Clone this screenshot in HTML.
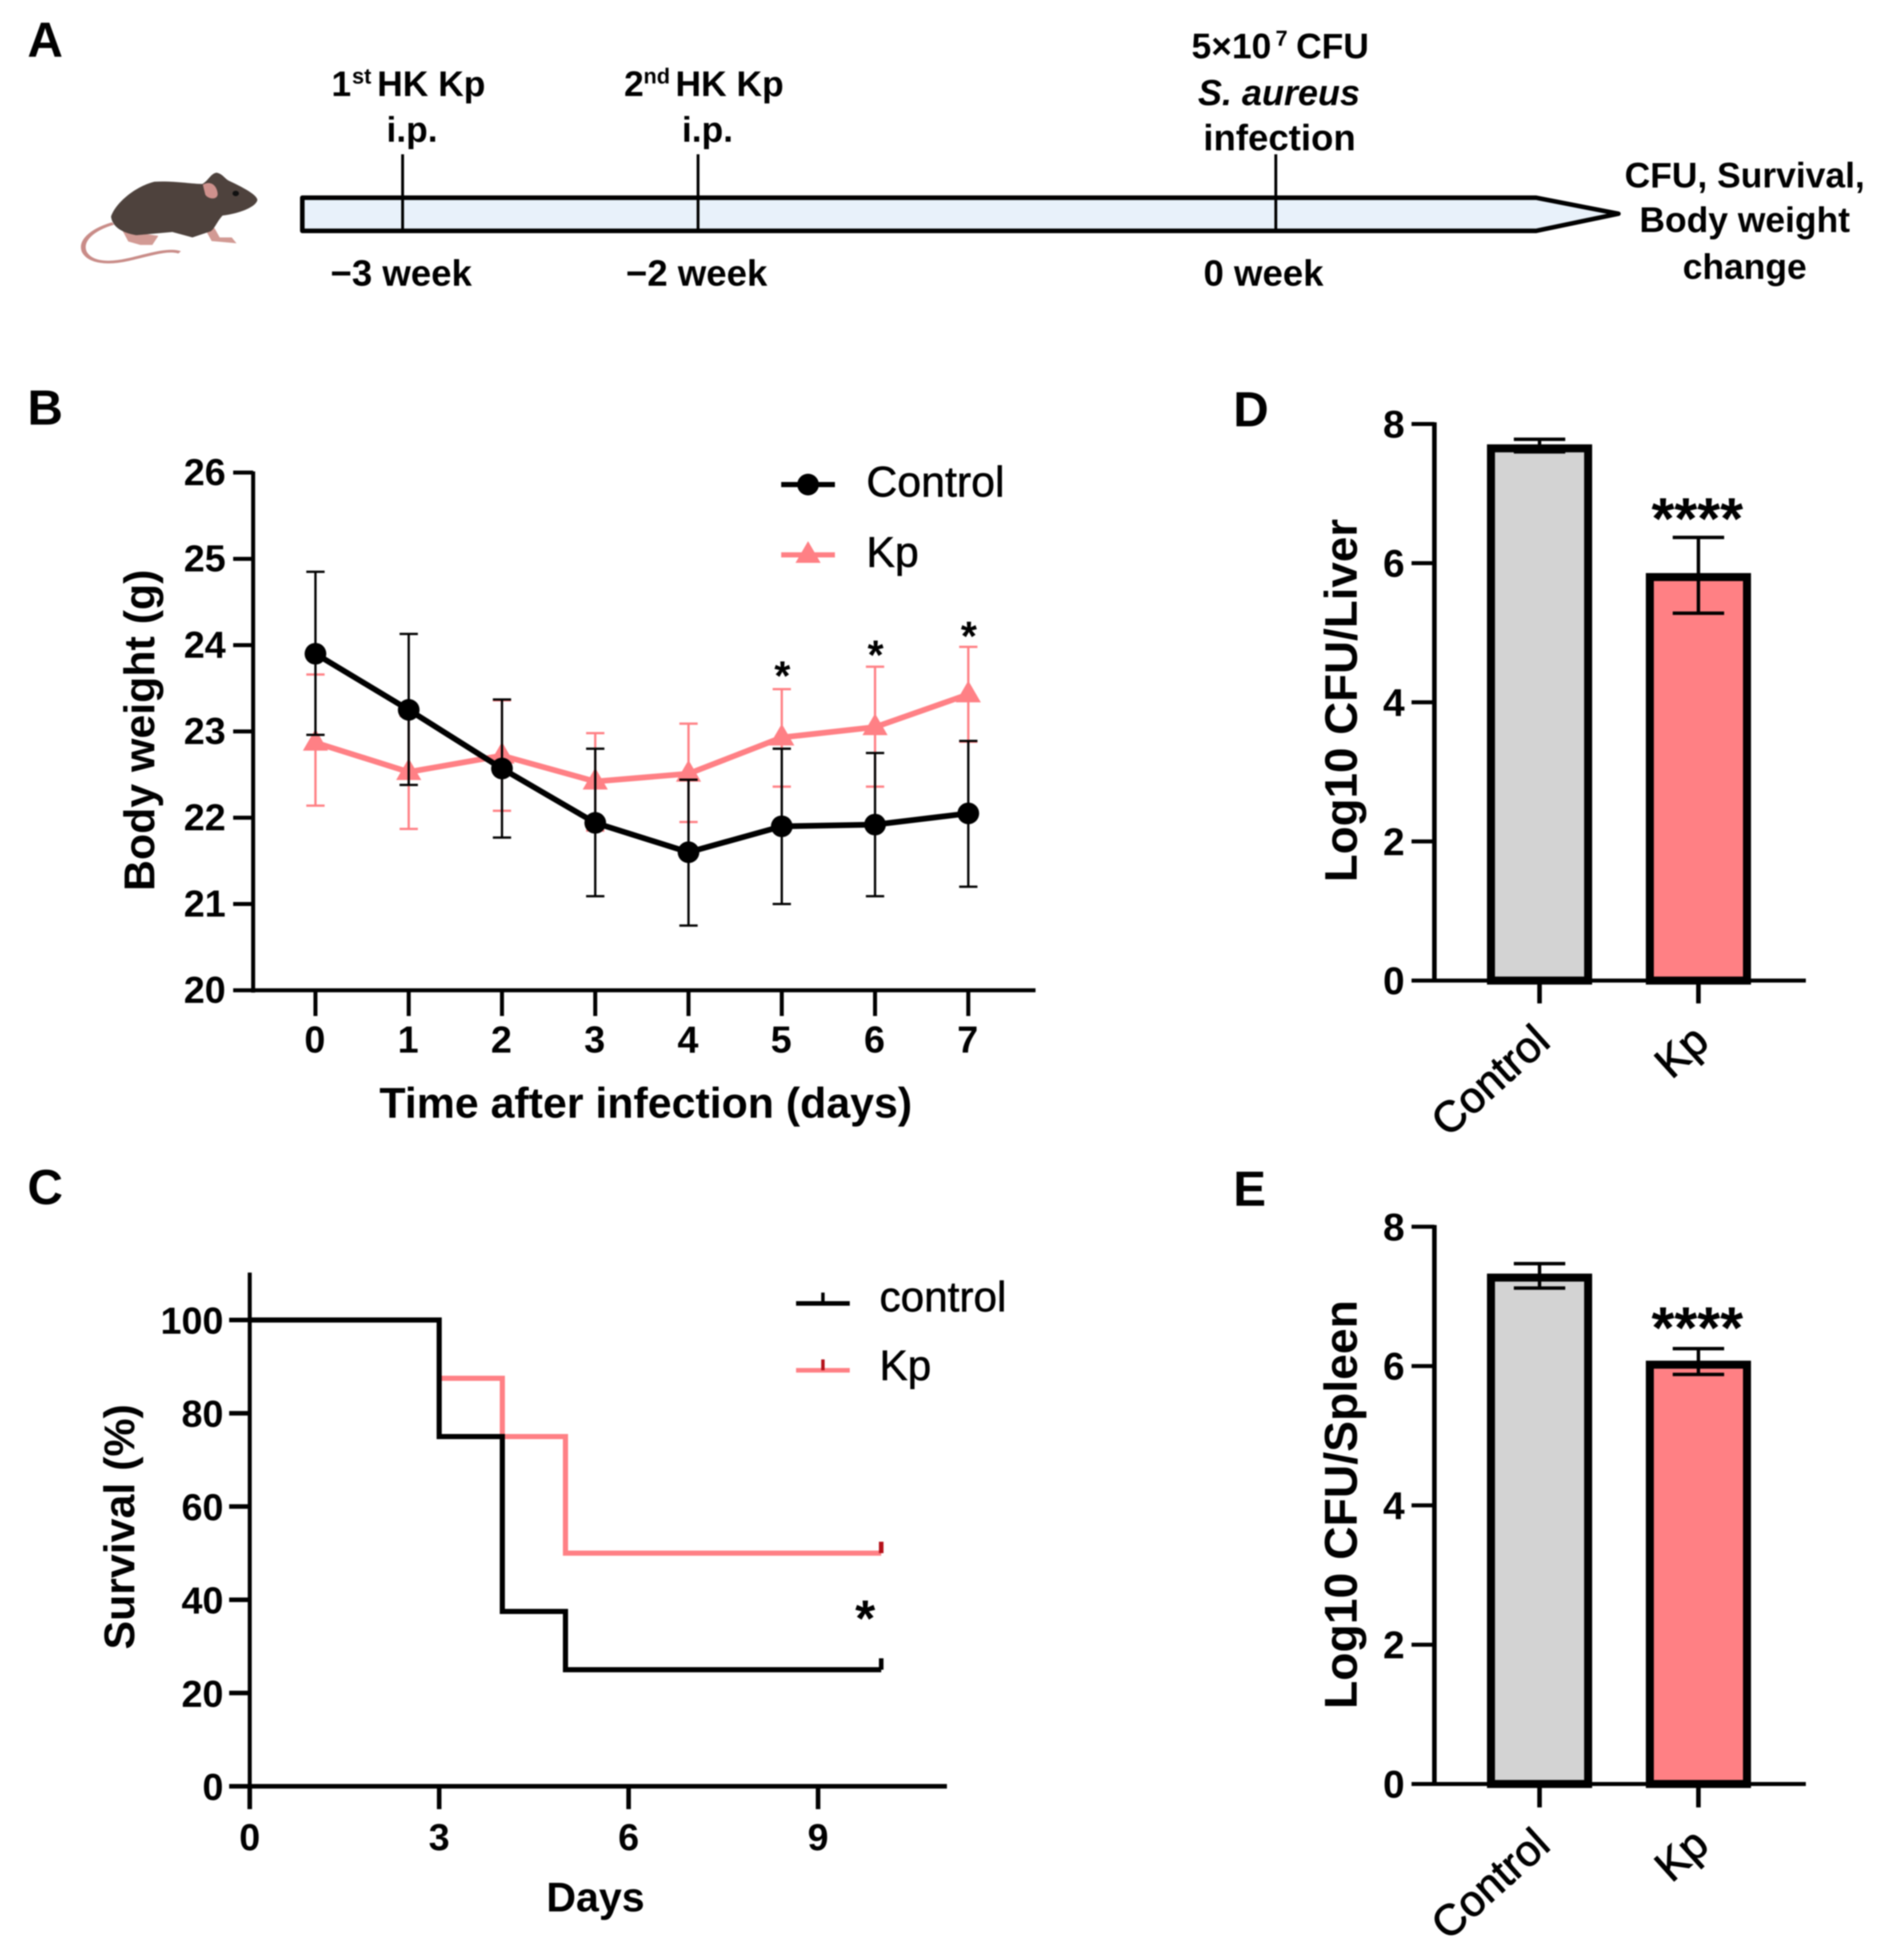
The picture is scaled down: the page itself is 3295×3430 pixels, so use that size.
<!DOCTYPE html>
<html lang="en">
<head>
<meta charset="utf-8">
<title>Kp protection figure</title>
<style>
html,body{margin:0;padding:0;background:#fff;}
svg{display:block;filter:blur(1px);}
text{font-family:"Liberation Sans",sans-serif;fill:#000;}
.b{font-weight:bold;}
.panel{font-size:86px;font-weight:bold;}
.a{font-size:62px;font-weight:bold;text-anchor:middle;}
.a64{font-size:64px;}
.sup{font-size:38px;font-weight:bold;}
.soft{stroke:#000;stroke-width:.9px;}
</style>
</head>
<body>
<svg id="fig" xmlns="http://www.w3.org/2000/svg" width="3295" height="3430" viewBox="0 0 3295 3430">
<rect width="3295" height="3430" fill="#fff"/>

<text class="panel" x="48" y="99">A</text>
<text class="panel" x="48" y="743">B</text>
<text class="panel" x="48" y="2107">C</text>
<text class="panel" x="2158" y="746">D</text>
<text class="panel" x="2158" y="2110">E</text>

<g id="mouse" transform="scale(.7015 .395)">
  <path d="M282 990C225 1020 200 1070 210 1115C225 1165 270 1170 320 1150C370 1130 420 1100 448 1118" fill="none" stroke="#c98c88" stroke-width="12"/>
  <path d="M305 1020L320 1070L350 1085L380 1085L395 1045ZM510 1010L528 1068L590 1078L578 1052L548 1052L535 1010Z" fill="#d29a94"/>
  <path d="M277 960C285 910 330 830 385 805C430 800 480 815 505 815C520 800 525 770 540 765C555 770 560 790 570 800C600 825 640 860 642 885C640 915 600 945 555 955C540 985 535 1015 525 1025L480 1052L430 1028L340 1042C300 1030 280 1000 277 960Z" fill="#4e423d"/>
  <path d="M506 818C530 796 542 830 543 860C542 888 518 882 512 862Z" fill="#cf918d"/>
  <ellipse cx="588" cy="857" rx="8" ry="12" fill="#111"/>
</g>

<path d="M529 346H2688L2832 374L2688 404H529Z" fill="#e8f1fa" stroke="#000" stroke-width="8" stroke-linejoin="round"/>
<rect x="702" y="270" width="5" height="134" fill="#000"/>
<rect x="1219" y="270" width="5" height="134" fill="#000"/>
<rect x="2230" y="270" width="5" height="134" fill="#000"/>

<text class="b" x="580" y="168" font-size="62">1</text>
<text class="sup" x="616" y="146">st</text>
<text class="b" x="660" y="168" font-size="62">HK Kp</text>
<text class="a" x="721" y="248">i.p.</text>
<text class="b" x="1092" y="168" font-size="62">2</text>
<text class="sup" x="1126" y="146">nd</text>
<text class="b" x="1182" y="168" font-size="62">HK Kp</text>
<text class="a" x="1238" y="248">i.p.</text>
<text class="b" x="2085" y="102" font-size="62">5×10</text>
<text class="sup" x="2232" y="80">7</text>
<text class="b" x="2268" y="102" font-size="62">CFU</text>
<text class="a" x="2238" y="184" font-style="italic" style="font-size:63px">S. aureus</text>
<text class="a a64" x="2239" y="263">infection</text>
<text class="a a64" x="702" y="500">−3 week</text>
<text class="a a64" x="1219" y="500">−2 week</text>
<text class="a a64" x="2211" y="500">0 week</text>
<text class="a" x="3053" y="328">CFU, Survival,</text>
<text class="a" x="3053" y="406">Body weight</text>
<text class="a" x="3053" y="488">change</text>

<g id="chartB">
  <text class="b" font-size="75" text-anchor="middle" transform="translate(270 1278) rotate(-90)">Body weight (g)</text>
  <text class="b" font-size="75" text-anchor="middle" x="1130" y="1956">Time after infection (days)</text>
  <text class="soft" font-size="75" x="1516" y="869">Control</text>
  <text class="soft" font-size="75" x="1516" y="992">Kp</text>
</g>

<g id="chartC">
  <text class="b" font-size="75" text-anchor="middle" transform="translate(235 2672) rotate(-90)">Survival (%)</text>
  <text class="b" font-size="72" text-anchor="middle" x="1042" y="3345">Days</text>
  <text class="soft" font-size="74" x="1539" y="2295">control</text>
  <text class="soft" font-size="74" x="1539" y="2415">Kp</text>
</g>

<g id="chartD">
  <text class="b" font-size="80" text-anchor="middle" transform="translate(2374 1226) rotate(-90)">Log10 CFU/Liver</text>
</g>

<g id="chartE">
  <text class="b" font-size="81" text-anchor="middle" transform="translate(2374 2633) rotate(-90)">Log10 CFU/Spleen</text>
</g>
</svg>

<script>
/* Panel B data */
const weightDays = [0, 1, 2, 3, 4, 5, 6, 7];
const weightTicks = [20, 21, 22, 23, 24, 25, 26];
const controlMean = [23.9, 23.25, 22.57, 21.94, 21.6, 21.9, 21.92, 22.05];
const controlHigh = [24.85, 24.13, 23.37, 22.8, 22.44, 22.8, 22.75, 22.89];
const controlLow = [22.96, 22.38, 21.77, 21.09, 20.75, 21.0, 21.09, 21.2];
const kpMean = [22.87, 22.53, 22.72, 22.42, 22.51, 22.93, 23.05, 23.43];
const kpHigh = [23.66, 23.18, 23.36, 22.98, 23.09, 23.49, 23.75, 23.98];
const kpLow = [22.14, 21.87, 22.08, 21.85, 21.95, 22.36, 22.36, 22.88];
const weightStarDays = [5, 6, 7];
const weightStarValues = [23.72, 23.96, 24.18];

/* Panel C data */
const survivalXTicks = [0, 3, 6, 9];
const survivalYTicks = [0, 20, 40, 60, 80, 100];
const survivalTimes = [0, 3, 4, 5, 10];
const survivalControl = [100, 75, 37.5, 25, 25];
const survivalKp = [100, 87.5, 75, 50, 50];

/* Panels D and E data */
const cfuCategories = ['Control', 'Kp'];
const cfuTicks = [0, 2, 4, 6, 8];
const liverMean = [7.65, 5.8];
const liverHigh = [7.78, 6.37];
const liverLow = [7.6, 5.28];
const spleenMean = [7.27, 6.02];
const spleenHigh = [7.47, 6.25];
const spleenLow = [7.12, 5.88];

const SVGNS = 'http://www.w3.org/2000/svg';
const RED = '#ff8085';
const AXIS = '#000';

function mk(parent, tag, attrs, txt) {
  const e = document.createElementNS(SVGNS, tag);
  for (const k in attrs) e.setAttribute(k, attrs[k]);
  if (txt !== undefined) e.textContent = txt;
  parent.appendChild(e);
  return e;
}
function line(parent, x1, y1, x2, y2, color, w) {
  return mk(parent, 'line', {x1: x1, y1: y1, x2: x2, y2: y2, stroke: color, 'stroke-width': w});
}

/* ---------- Panel B ---------- */
(function () {
  const g = document.getElementById('chartB');
  const bx = function (d) { return 552 + 163.2 * d; };
  const by = function (v) { return 1733 - 151 * (v - 20); };
  let el;
  el = line(g, 443, 825, 443, 1737, AXIS, 7);
  
  
  el = line(g, 408, 1733, 1812, 1733, AXIS, 7);
  
  
  weightTicks.forEach(function (v) {
    el = line(g, 408, by(v), 443, by(v), AXIS, 7);
    
    
    el = mk(g, 'text', {x: 395, y: by(v) + 22, 'font-size': 66, 'text-anchor': 'end', 'font-weight': 'bold'}, String(v));
    
    
  });
  weightDays.forEach(function (d) {
    el = line(g, bx(d), 1733, bx(d), 1778, AXIS, 7);
    
    
    el = mk(g, 'text', {x: bx(d) - 1, y: 1842, 'font-size': 66, 'text-anchor': 'middle', 'font-weight': 'bold'}, String(d));
    
    
  });
  function errors(mean, hi, lo, color, nm) {
    mean.forEach(function (m, i) {
      const x = bx(weightDays[i]);
      el = line(g, x, by(hi[i]), x, by(lo[i]), color, 4);
      
      
      el = line(g, x - 16, by(hi[i]), x + 16, by(hi[i]), color, 4);
      
      
      el = line(g, x - 16, by(lo[i]), x + 16, by(lo[i]), color, 4);
      
      
    });
  }
  function series(mean, color, nm) {
    const pts = mean.map(function (m, i) { return bx(weightDays[i]) + ',' + by(m); }).join(' ');
    el = mk(g, 'polyline', {points: pts, fill: 'none', stroke: color, 'stroke-width': 10});
    
    
  }
  errors(kpMean, kpHigh, kpLow, RED, 'kp');
  series(kpMean, RED, 'kp');
  kpMean.forEach(function (m, i) {
    const x = bx(weightDays[i]), y = by(m);
    el = mk(g, 'path', {d: 'M' + x + ' ' + (y - 24) + 'l22 38h-44z', fill: RED});
    
    
  });
  errors(controlMean, controlHigh, controlLow, '#000', 'control');
  series(controlMean, '#000', 'control');
  controlMean.forEach(function (m, i) {
    el = mk(g, 'circle', {cx: bx(weightDays[i]), cy: by(m), r: 19, fill: '#000'});
    
    
  });
  weightStarDays.forEach(function (d, i) {
    el = mk(g, 'text', {x: bx(d) + 1, y: by(weightStarValues[i]) + 36, 'font-size': 72, 'font-weight': 'bold', 'text-anchor': 'middle'}, '*');
    
    
  });
  el = line(g, 1367, 848, 1461, 848, '#000', 9);
  
  
  el = mk(g, 'circle', {cx: 1414, cy: 848, r: 19, fill: '#000'});
  
  
  el = line(g, 1367, 971, 1461, 971, RED, 9);
  
  
  el = mk(g, 'path', {d: 'M1414 947l22 38h-44z', fill: RED});
  
  
})();

/* ---------- Panel C ---------- */
(function () {
  const g = document.getElementById('chartC');
  const cx = function (d) { return 437 + 110.5 * d; };
  const cy = function (v) { return 3126 - 8.16 * v; };
  let el;
  function steps(values) {
    let d = 'M' + cx(survivalTimes[0]) + ' ' + cy(values[0]);
    for (let i = 1; i < values.length; i++) {
      d += 'H' + cx(survivalTimes[i]) + 'V' + cy(values[i]);
    }
    return d;
  }
  el = mk(g, 'path', {d: steps(survivalKp), fill: 'none', stroke: RED, 'stroke-width': 9});
  
  
  el = mk(g, 'path', {d: steps(survivalControl), fill: 'none', stroke: '#000', 'stroke-width': 9});
  
  
  const lastT = cx(survivalTimes[survivalTimes.length - 1]);
  el = line(g, lastT, cy(survivalKp[survivalKp.length - 1]), lastT, cy(survivalKp[survivalKp.length - 1]) - 20, '#b5121b', 8);
  
  
  el = line(g, lastT, cy(survivalControl[survivalControl.length - 1]), lastT, cy(survivalControl[survivalControl.length - 1]) - 20, '#000', 8);
  
  
  el = line(g, 437, 2227, 437, 3166, AXIS, 7);
  
  
  el = line(g, 401, cy(0), 1657, cy(0), AXIS, 8);
  
  
  survivalYTicks.forEach(function (v) {
    el = line(g, 401, cy(v), 437, cy(v), AXIS, 8);
    
    
    el = mk(g, 'text', {x: 391, y: cy(v) + 24, 'font-size': 66, 'font-weight': 'bold', 'text-anchor': 'end'}, String(v));
    
    
  });
  survivalXTicks.forEach(function (d) {
    el = line(g, cx(d), cy(0), cx(d), 3166, AXIS, 8);
    
    
    el = mk(g, 'text', {x: cx(d), y: 3238, 'font-size': 66, 'font-weight': 'bold', 'text-anchor': 'middle'}, String(d));
    
    
  });
  el = mk(g, 'text', {x: 1514, y: 2863, 'font-size': 90, 'font-weight': 'bold', 'text-anchor': 'middle'}, '*');
  
  
  el = line(g, 1393, 2281, 1487, 2281, '#000', 8);
  
  
  el = line(g, 1440, 2281, 1440, 2262, '#000', 6);
  
  
  el = line(g, 1393, 2398, 1487, 2398, RED, 8);
  
  
  el = line(g, 1440, 2398, 1440, 2379, '#b5121b', 6);
  
  
})();

/* ---------- Panels D / E ---------- */
function drawBars(id, prefix, mean, hi, lo, y0, unit, starY, tickEnd) {
  const g = document.getElementById(id);
  const bandCenter = [2694, 2972];
  const by = function (v) { return y0 - unit * v; };
  const fills = ['#d3d3d3', '#ff8084'];
  let el;
  cfuCategories.forEach(function (c, i) {
    const x = bandCenter[i];
    el = mk(g, 'rect', {x: x - 85, y: by(mean[i]), width: 170, height: y0 - by(mean[i]), fill: fills[i], stroke: '#000', 'stroke-width': 14});
    
    
    el = line(g, x, by(hi[i]), x, by(lo[i]), '#000', 6);
    
    
    el = line(g, x - 45, by(hi[i]), x + 45, by(hi[i]), '#000', 6);
    
    
    el = line(g, x - 45, by(lo[i]), x + 45, by(lo[i]), '#000', 6);
    
    
    el = line(g, x, y0, x, tickEnd, '#000', 8);
    
    
    const ex = x + 22;
    const ey = y0 + 112;
    el = mk(g, 'text', {'font-size': 76, 'text-anchor': 'end', stroke: '#000', 'stroke-width': 1.5, transform: 'translate(' + ex + ' ' + ey + ') rotate(-42)'}, c);
    
    
  });
  el = line(g, 2510, by(8) - 3, 2510, y0, AXIS, 8);
  
  
  el = line(g, 2470, y0, 3160, y0, AXIS, 7);
  
  
  cfuTicks.forEach(function (v) {
    el = line(g, 2470, by(v), 2510, by(v), AXIS, 7);
    
    
    el = mk(g, 'text', {x: 2458, y: by(v) + 24, 'font-size': 68, 'font-weight': 'bold', 'text-anchor': 'end'}, String(v));
    
    
  });
  el = mk(g, 'text', {x: bandCenter[1] - 2, y: starY, 'font-size': 103, 'font-weight': 'bold', 'text-anchor': 'middle'}, '****');
  
  
}
drawBars('chartD', 'liver', liverMean, liverHigh, liverLow, 1716, 121.75, 943, 1756);
drawBars('chartE', 'spleen', spleenMean, spleenHigh, spleenLow, 3122, 121.9, 2359, 3163);
</script>
</body>
</html>
